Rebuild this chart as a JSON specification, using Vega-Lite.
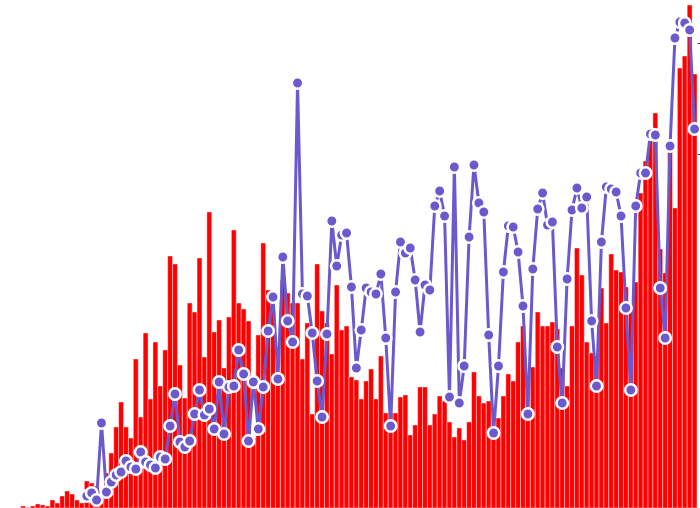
{
  "$schema": "https://vega.github.io/schema/vega-lite/v6.json",
  "width": 696,
  "height": 508,
  "autosize": {"type": "none"},
  "padding": {"left": 1, "top": 0, "right": 3, "bottom": 0},
  "background": "white",
  "config": {"view": {"stroke": null}},
  "data": {"values": [
    {"i":0,"b":0},{"i":1,"b":0},{"i":2,"b":0},{"i":3,"b":0},{"i":4,"b":2},{"i":5,"b":0.5},{"i":6,"b":2},{"i":7,"b":4},{"i":8,"b":3},{"i":9,"b":2},
    {"i":10,"b":8},{"i":11,"b":5},{"i":12,"b":12},{"i":13,"b":17},{"i":14,"b":14},{"i":15,"b":8},{"i":16,"b":5},{"i":17,"b":27,"p":12},{"i":18,"b":25,"p":15},{"i":19,"b":22,"p":8},
    {"i":20,"b":18,"p":85},{"i":21,"b":35,"p":16},{"i":22,"b":55,"p":26},{"i":23,"b":81,"p":33},{"i":24,"b":106,"p":36},{"i":25,"b":81,"p":47},{"i":26,"b":70,"p":41},{"i":27,"b":149,"p":39},{"i":28,"b":91,"p":56},{"i":29,"b":175,"p":46},
    {"i":30,"b":109,"p":43},{"i":31,"b":166,"p":40},{"i":32,"b":122,"p":51},{"i":33,"b":158,"p":49},{"i":34,"b":252,"p":82},{"i":35,"b":244,"p":114},{"i":36,"b":143,"p":66},{"i":37,"b":110,"p":61},{"i":38,"b":205,"p":67},{"i":39,"b":196,"p":94},
    {"i":40,"b":250,"p":118},{"i":41,"b":151,"p":93},{"i":42,"b":296,"p":99},{"i":43,"b":176,"p":79},{"i":44,"b":188,"p":126},{"i":45,"b":140,"p":74},{"i":46,"b":191,"p":121},{"i":47,"b":278,"p":122},{"i":48,"b":205,"p":158},{"i":49,"b":199,"p":134},
    {"i":50,"b":187,"p":67},{"i":51,"b":70,"p":126},{"i":52,"b":173,"p":79},{"i":53,"b":265,"p":121},{"i":54,"b":218,"p":177},{"i":55,"b":197,"p":211},{"i":56,"b":128,"p":129},{"i":57,"b":228,"p":251},{"i":58,"b":215,"p":187},{"i":59,"b":205,"p":166},
    {"i":60,"b":205,"p":425},{"i":61,"b":149,"p":214},{"i":62,"b":185,"p":212},{"i":63,"b":94,"p":175},{"i":64,"b":244,"p":127},{"i":65,"b":197,"p":91},{"i":66,"b":185,"p":174},{"i":67,"b":154,"p":287},{"i":68,"b":223,"p":242},{"i":69,"b":178,"p":273},
    {"i":70,"b":182,"p":275},{"i":71,"b":131,"p":221},{"i":72,"b":128,"p":140},{"i":73,"b":109,"p":178},{"i":74,"b":127,"p":220},{"i":75,"b":139,"p":216},{"i":76,"b":109,"p":214},{"i":77,"b":152,"p":234},{"i":78,"b":95,"p":170},{"i":79,"b":95,"p":82},
    {"i":80,"b":95,"p":216},{"i":81,"b":111,"p":266},{"i":82,"b":113,"p":255},{"i":83,"b":73,"p":260},{"i":84,"b":83,"p":228},{"i":85,"b":121,"p":176},{"i":86,"b":121,"p":223},{"i":87,"b":83,"p":218},{"i":88,"b":94,"p":302},{"i":89,"b":112,"p":317},
    {"i":90,"b":107,"p":292},{"i":91,"b":86,"p":111},{"i":92,"b":71,"p":341},{"i":93,"b":80,"p":105},{"i":94,"b":68,"p":142},{"i":95,"b":86,"p":271},{"i":96,"b":136,"p":343},{"i":97,"b":112,"p":305},{"i":98,"b":105,"p":296},{"i":99,"b":107,"p":173},
    {"i":100,"b":75,"p":75},{"i":101,"b":90,"p":142},{"i":102,"b":112,"p":236},{"i":103,"b":134,"p":282},{"i":104,"b":127,"p":281},{"i":105,"b":166,"p":256},{"i":106,"b":182,"p":202},{"i":107,"b":95,"p":94},{"i":108,"b":141,"p":239},{"i":109,"b":196,"p":299},
    {"i":110,"b":182,"p":315},{"i":111,"b":182,"p":283},{"i":112,"b":186,"p":286},{"i":113,"b":179,"p":161},{"i":114,"b":140,"p":105},{"i":115,"b":122,"p":229},{"i":116,"b":182,"p":298},{"i":117,"b":260,"p":320},{"i":118,"b":233,"p":300},{"i":119,"b":166,"p":311},
    {"i":120,"b":155,"p":187},{"i":121,"b":152,"p":122},{"i":122,"b":220,"p":266},{"i":123,"b":185,"p":321},{"i":124,"b":254,"p":319},{"i":125,"b":238,"p":316},{"i":126,"b":236,"p":292},{"i":127,"b":221,"p":200},{"i":128,"b":200,"p":118},{"i":129,"b":226,"p":302},
    {"i":130,"b":315,"p":335},{"i":131,"b":347,"p":335},{"i":132,"b":375,"p":374},{"i":133,"b":395,"p":373},{"i":134,"b":259,"p":220},{"i":135,"b":235,"p":170},{"i":136,"b":368,"p":362},{"i":137,"b":300,"p":470},{"i":138,"b":440,"p":486},{"i":139,"b":452,"p":485},
    {"i":140,"b":503,"p":478},{"i":141,"b":434,"p":379}
  ]},
  "encoding": {
    "x": {"field": "i", "type": "ordinal", "axis": null, "scale": {"paddingInner": 0, "paddingOuter": 0}}
  },
  "layer": [
    {
      "mark": {"type": "bar", "color": "#ff0000", "stroke": "#ffffff", "strokeWidth": 0.6, "strokeOpacity": 0.7},
      "encoding": {"y": {"field": "b", "type": "quantitative", "scale": {"domain": [0, 508], "nice": false, "zero": true},
        "axis": {"orient": "right", "values": [354, 465], "labels": false, "domain": false, "grid": false, "ticks": true, "tickSize": 4, "tickColor": "#444444", "title": null}}}
    },
    {
      "mark": {"type": "line", "color": "#6a5acd", "strokeWidth": 3},
      "encoding": {"y": {"field": "p", "type": "quantitative"}}
    },
    {
      "mark": {"type": "point", "filled": true, "fill": "#6a5acd", "stroke": "#ffffff", "strokeWidth": 2.5, "size": 130, "opacity": 1},
      "encoding": {"y": {"field": "p", "type": "quantitative"}}
    }
  ]
}
